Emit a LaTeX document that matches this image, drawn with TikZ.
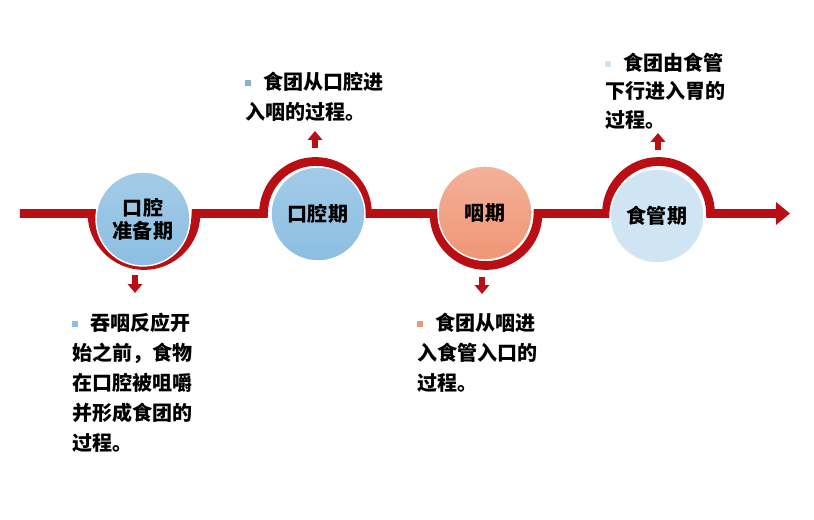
\documentclass[tikz,border=0pt]{standalone}
\usepackage{fontspec}
\usepackage{xcolor}
\usepackage{tikz}
\usetikzlibrary{arrows.meta,positioning,calc}
\newfontfamily\cjk{Noto Sans CJK SC}
\definecolor{voie}{RGB}{185,15,20}
\definecolor{bleu}{RGB}{140,190,226}
\definecolor{bleupale}{RGB}{228,241,250}
\definecolor{saumon}{RGB}{240,150,118}
\definecolor{saumonpale}{RGB}{252,230,220}
\definecolor{givre}{RGB}{208,229,244}
\definecolor{givrepale}{RGB}{244,249,253}
\newcommand\puce[1]{\makebox[0.36cm][l]{\textcolor{#1}{\rule[0.08cm]{0.12cm}{0.12cm}}}}

\tikzset{
  piste/.style={voie,line width=5pt,-{Triangle[length=0.28cm,width=0.44cm]}},
  etape/.style={circle,minimum size=1.88cm,inner sep=0pt,draw=white,line width=0.8pt,
                align=center,font=\cjk\bfseries\fontsize{11.4}{13}\selectfont},
  texte/.style={anchor=north west,inner sep=0pt,align=left,
                font=\cjk\bfseries\fontsize{11.4}{17}\selectfont},
  fleche/.style={voie,line width=3pt,-{Triangle[length=5pt,width=8pt]}}
}

\begin{document}
\begin{tikzpicture}[scale=1]
    % 1 cm = 50 px ; voie a y = 6.13 ; rayon des arcs 1.04
    \useasboundingbox (0,0) rectangle (16.28,10.4);
    \coordinate (depart) at (0.4,6.13);
    \coordinate (fin) at (15.8,6.13);
    \draw[piste](depart)--(1.84,6.13) arc[start angle=180,end angle=360,radius=1.04]
      --(5.27,6.13) arc[start angle=180,end angle=0,radius=1.04]
      --(8.68,6.13) arc[start angle=180,end angle=360,radius=1.04]
      --(12.13,6.13) arc[start angle=180,end angle=0,radius=1.04]--(fin);
    \node[etape,top color=bleu!80!white,middle color=bleupale,bottom color=bleu]
      (bouche) at (2.86,6.02){口腔\\准备期};
    \node[etape,top color=bleu!80!white,middle color=bleupale,bottom color=bleu]
      (cavite) at (6.36,6.12){口腔期};
    \node[etape,top color=saumon!75!white,middle color=saumonpale,bottom color=saumon]
      (pharynx) at (9.70,6.14){咽期};
    \node[etape,top color=givre,middle color=givrepale,bottom color=givre]
      (oeso) at (13.14,6.08){食管期};
    % petites fleches
    \coordinate (b1) at (2.70,4.90); \coordinate (b2) at (2.70,4.54);
    \coordinate (h1) at (6.30,7.44); \coordinate (h2) at (6.30,7.78);
    \coordinate (b3) at (9.64,4.86); \coordinate (b4) at (9.64,4.52);
    \coordinate (h3) at (13.16,7.40); \coordinate (h4) at (13.16,7.74);
    \draw[fleche](b1)--(b2);
    \draw[fleche](h1)--(h2);
    \draw[fleche](b3)--(b4);
    \draw[fleche](h3)--(h4);
    \node[texte] (prep) at (1.44,4.14){\puce{bleu}吞咽反应开\\始之前，食物\\在口腔被咀嚼\\并形成食团的\\过程。};
    \node[texte] (orale) at (4.90,8.96){\puce{bleu!80!gray}食团从口腔进\\入咽的过程。};
    \node[texte] (phar) at (8.34,4.14){\puce{saumon}食团从咽进\\入食管入口的\\过程。};
    \node[texte,font=\cjk\bfseries\fontsize{11.4}{16}\selectfont] (oes) at (12.10,9.34){\puce{givre}食团由食管\\下行进入胃的\\过程。};
  \end{tikzpicture}
\end{document}
